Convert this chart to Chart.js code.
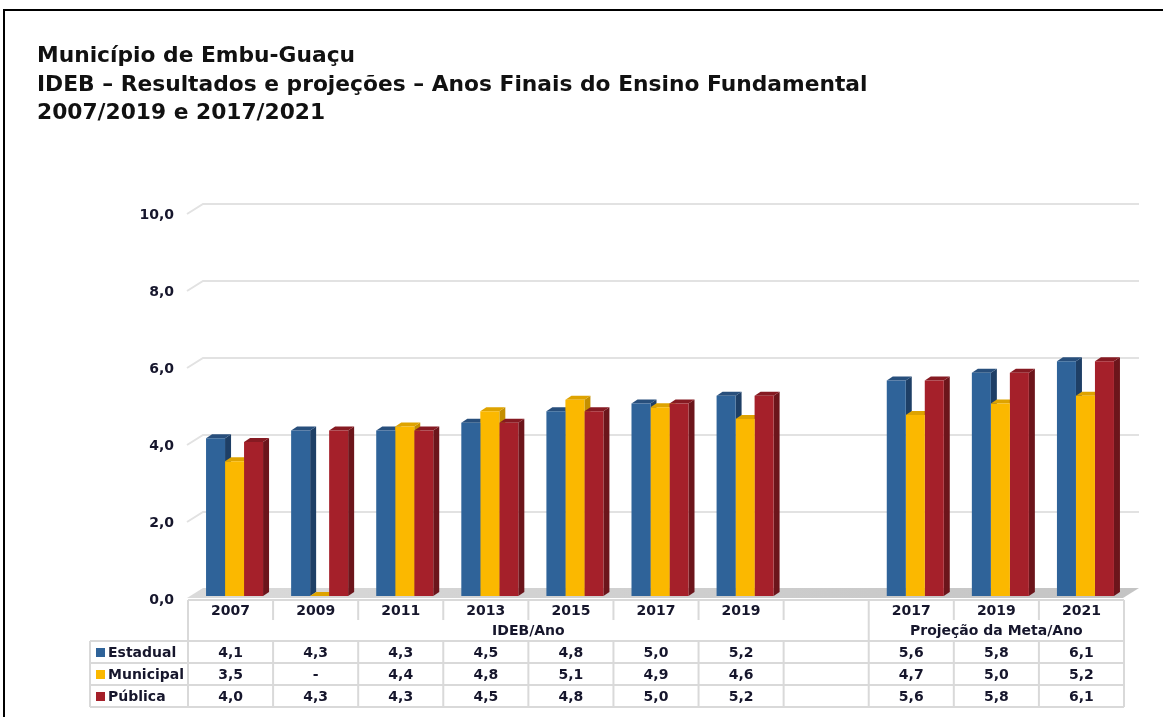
<!DOCTYPE html>
<html>
<head>
<meta charset="utf-8">
<script src="https://cdn.jsdelivr.net/npm/chart.js@4.4.1/dist/chart.umd.min.js"></script>
<style>
  html, body { margin: 0; padding: 0; background: #fff; }
  #wrap { position: relative; width: 1163px; height: 717px; overflow: hidden; }
  #frame { position: absolute; left: 3px; top: 9px; width: 1200px; height: 760px; border: 2px solid #000; box-sizing: border-box; }
  .ttl { position: absolute; left: 37px; font-family: "DejaVu Sans", Verdana, sans-serif; font-weight: bold;
         color: #111; white-space: nowrap; line-height: 1; }
  canvas { position: absolute; left: 0; top: 0; }
</style>
</head>
<body>
<div id="wrap">
  <div id="frame"></div>
  <canvas id="chart" width="1163" height="717"></canvas>
  <div class="ttl" id="t1">Município de Embu-Guaçu</div>
  <div class="ttl" id="t2">IDEB – Resultados e projeções – Anos Finais do Ensino Fundamental</div>
  <div class="ttl" id="t3">2007/2019 e 2017/2021</div>
</div>
<script>
// data
const categories = ['2007', '2009', '2011', '2013', '2015', '2017', '2019', '', '2017', '2019', '2021'];
const estadual  = [4.1, 4.3, 4.3, 4.5, 4.8, 5.0, 5.2, null, 5.6, 5.8, 6.1];
const municipal = [3.5, null, 4.4, 4.8, 5.1, 4.9, 4.6, null, 4.7, 5.0, 5.2];
const publica   = [4.0, 4.3, 4.3, 4.5, 4.8, 5.0, 5.2, null, 5.6, 5.8, 6.1];
const seriesNames = ['Estadual', 'Municipal', 'Pública'];
const groupLabels = ['IDEB/Ano', 'Projeção da Meta/Ano'];
const groupSpans = [8, 3];
const yMin = 0, yMax = 10, yStep = 2;

const FRONT = ['#2f6399', '#fbb800', '#a5202a'];
const SIDE  = ['#1e3f66', '#c48f00', '#6c151b'];
const TOP   = ['#284f7c', '#dea300', '#861a22'];
const TXT = '#16162c';
const LINE = '#d9d9d9';
const FONT = '"DejaVu Sans"';

// depth of the fake 3d
const DX = 6, DY = 4;

const fmt = v => v == null ? '-' : v.toFixed(1).replace('.', ',');

// titles: fit line 2 to its width in the picture
(function () {
  const c = document.createElement('canvas').getContext('2d');
  c.font = 'bold 20px ' + FONT;
  const w = c.measureText(document.getElementById('t2').textContent).width;
  const size = 20 * 831 / w;
  const baselines = [62, 91, 119];
  ['t1', 't2', 't3'].forEach((id, i) => {
    const el = document.getElementById(id);
    el.style.fontSize = size + 'px';
    el.style.top = (baselines[i] - 0.846 * size) + 'px';
  });
})();

const deco3d = {
  id: 'deco3d',
  beforeDatasetsDraw(chart) {
    const ctx = chart.ctx;
    const area = chart.chartArea;
    const ys = chart.scales.y;
    const base = ys.getPixelForValue(0);
    ctx.save();

    // floor
    const grad = ctx.createLinearGradient(area.left, 0, area.right, 0);
    grad.addColorStop(0, '#dadada');
    grad.addColorStop(1, '#c4c4c4');
    ctx.fillStyle = grad;
    ctx.beginPath();
    ctx.moveTo(area.left - 5, base + 2);
    ctx.lineTo(area.left + 11, base - 8);
    ctx.lineTo(area.right + 11, base - 8);
    ctx.lineTo(area.right - 5, base + 2);
    ctx.closePath();
    ctx.fill();

    // grid lines on the back wall with a slanted stub at the left
    ctx.strokeStyle = '#e2e2e2';
    ctx.lineWidth = 2;
    ys.ticks.forEach(t => {
      if (t.value === yMin) return;
      const y = ys.getPixelForValue(t.value);
      ctx.beginPath();
      ctx.moveTo(area.left - 5, y + 3);
      ctx.lineTo(area.left + 11, y - 7);
      ctx.lineTo(area.right + 11, y - 7);
      ctx.stroke();
    });

    // side and top faces, before the fronts get drawn
    const metas = chart.data.datasets.map((d, i) => chart.getDatasetMeta(i));
    for (let k = 0; k < categories.length; k++) {
      if (categories[k] === '') continue;
      metas.forEach((meta, i) => {
        const el = meta.data[k];
        const p = el.getProps(['x', 'y', 'base', 'width'], true);
        const raw = chart.data.datasets[i].data[k];
        const top = raw == null ? base : p.y;
        const l = p.x - p.width / 2, r = p.x + p.width / 2;
        ctx.fillStyle = SIDE[i];
        ctx.beginPath();
        ctx.moveTo(r, top);
        ctx.lineTo(r + DX, top - DY);
        ctx.lineTo(r + DX, base - DY);
        ctx.lineTo(r, base);
        ctx.closePath();
        ctx.fill();
        ctx.fillStyle = TOP[i];
        ctx.beginPath();
        ctx.moveTo(l, top);
        ctx.lineTo(l + DX, top - DY);
        ctx.lineTo(r + DX, top - DY);
        ctx.lineTo(r, top);
        ctx.closePath();
        ctx.fill();
      });
    }
    ctx.restore();
  },
  afterDraw(chart) {
    const ctx = chart.ctx;
    const xs = chart.scales.x;
    const ys = chart.scales.y;
    const n = categories.length;
    const colW = (xs.right - xs.left) / n;
    const x0 = xs.left - 4;
    const x1 = x0 + n * colW;
    const legL = 90;
    const top = ys.getPixelForValue(0) + 4;
    const rowCat = [top, top + 20];
    const rowGrp = [top + 20, top + 41];
    const rows = [top + 41, top + 63, top + 85, top + 107];
    const series = [estadual, municipal, publica];

    ctx.save();
    ctx.strokeStyle = LINE;
    ctx.lineWidth = 2;
    const line = (ax, ay, bx, by) => { ctx.beginPath(); ctx.moveTo(ax, ay); ctx.lineTo(bx, by); ctx.stroke(); };

    line(x0, rowCat[0], x1, rowCat[0]);
    for (let k = 0; k <= n; k++) {
      const x = x0 + k * colW;
      line(x, rowCat[0], x, rowCat[1]);
      line(x, rows[0], x, rows[3]);
    }
    let acc = 0;
    [0].concat(groupSpans).forEach(s => {
      acc += s;
      const x = x0 + acc * colW;
      line(x, rowGrp[0], x, rowGrp[1]);
    });
    rows.forEach(y => line(legL, y, x1, y));
    line(legL, rows[0], legL, rows[3]);

    ctx.fillStyle = TXT;
    ctx.font = 'bold 14px ' + FONT;
    ctx.textAlign = 'center';
    ctx.textBaseline = 'middle';
    categories.forEach((c, k) => ctx.fillText(c, x0 + (k + 0.5) * colW, (rowCat[0] + rowCat[1]) / 2 + 1));

    acc = 0;
    groupLabels.forEach((g, i) => {
      const cx = x0 + (acc + groupSpans[i] / 2) * colW;
      ctx.fillText(g, cx, (rowGrp[0] + rowGrp[1]) / 2 + 1);
      acc += groupSpans[i];
    });

    series.forEach((s, i) => {
      const cy = (rows[i] + rows[i + 1]) / 2 + 1;
      s.forEach((v, k) => {
        if (categories[k] === '') return;
        ctx.fillText(fmt(v), x0 + (k + 0.5) * colW, cy);
      });
      ctx.fillStyle = FRONT[i];
      ctx.fillRect(96, cy - 5, 9, 9);
      ctx.fillStyle = TXT;
      ctx.textAlign = 'left';
      ctx.fillText(seriesNames[i], 108, cy);
      ctx.textAlign = 'center';
    });
    ctx.restore();
  }
};

new Chart(document.getElementById('chart'), {
  type: 'bar',
  data: {
    labels: categories,
    datasets: [
      { label: seriesNames[0], data: estadual, backgroundColor: FRONT[0] },
      { label: seriesNames[1], data: municipal, backgroundColor: FRONT[1] },
      { label: seriesNames[2], data: publica, backgroundColor: FRONT[2] }
    ]
  },
  options: {
    responsive: false,
    animation: false,
    categoryPercentage: 0.67,
    barPercentage: 1,
    layout: { padding: { left: 4, right: 35, top: 211, bottom: 121 } },
    plugins: { legend: { display: false }, tooltip: { enabled: false } },
    scales: {
      x: { display: false },
      y: {
        min: yMin, max: yMax,
        grid: { display: false, drawTicks: false },
        border: { display: false },
        ticks: {
          stepSize: yStep,
          padding: 18,
          labelOffset: 4,
          color: TXT,
          font: { family: 'DejaVu Sans', weight: 'bold', size: 14 },
          callback: v => v.toFixed(1).replace('.', ',')
        },
        afterFit: s => { s.width = 188; }
      }
    }
  },
  plugins: [deco3d]
});
</script>
</body>
</html>
